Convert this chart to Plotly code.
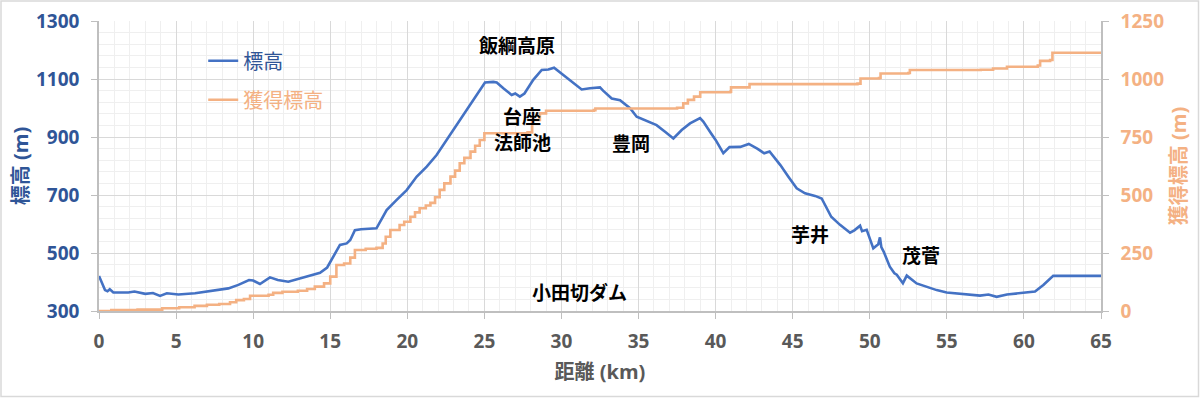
import plotly.graph_objects as go

# 距離 (km) と 標高 (m)
dist_elev = [0, 0.39, 0.55, 0.7, 0.93, 1.9, 2.3, 3.0, 3.5, 3.96, 4.4, 5.15, 6.23, 7.3, 8.39, 9.04,
             9.73, 10.0, 10.44, 11.09, 11.6, 12.28, 12.9, 13.97, 14.34, 14.8, 15.2, 15.63, 16.07,
             16.3, 16.6, 17.0, 18.0, 18.66, 19.31, 19.96, 20.6, 21.26, 21.9, 22.56, 23.2, 23.85,
             24.5, 25.04, 25.58, 25.8, 26.23, 26.77, 27.0, 27.3, 27.6, 28.17, 28.72, 29.15, 29.52,
             30.12, 30.66, 31.31, 31.85, 32.5, 32.7, 33.26, 33.8, 34.45, 34.88, 35.53, 36.17,
             36.72, 37.26, 37.8, 38.34, 38.99, 39.2, 39.7, 40.0, 40.5, 40.9, 41.6, 42.15, 42.7,
             43.15, 43.5, 44.2, 44.72, 45.26, 45.8, 46.45, 46.88, 47.5, 48.07, 48.72, 49.0,
             49.37, 49.5, 49.8, 50.23, 50.55, 50.66, 50.75, 50.9, 51.3, 51.6, 51.75, 52.15,
             52.4, 53.04, 53.7, 54.34, 54.99, 56.07, 57.15, 57.7, 58.23, 58.9, 59.96, 60.72,
             61.26, 61.9, 65.0]
elevation = [421, 372, 368, 375, 364, 364, 367, 359, 362, 352, 361, 357, 361, 370, 378, 390,
             407, 405, 393, 416, 407, 401, 410, 428, 432, 450, 487, 528, 533,
             545, 579, 582, 585, 648, 683, 717, 763, 798, 838, 890, 941, 993,
             1045, 1088, 1090, 1088, 1068, 1045, 1050, 1039, 1050, 1097, 1131, 1133, 1139,
             1114, 1091, 1064, 1068, 1071, 1060, 1033, 1027, 999, 970, 956, 941,
             918, 895, 924, 947, 965, 953, 913, 890, 844, 865, 866, 876, 860,
             844, 850, 803, 763, 723, 706, 697, 688, 625, 597, 570, 578,
             594, 575, 580, 516, 530, 554, 520, 505, 453, 430, 425, 396,
             422, 395, 384, 372, 364, 359, 353, 357, 349, 357, 364, 367,
             390, 421, 421]

# 獲得標高 (m)
dist_gain = [0, 0.8, 2.5, 4.1, 5.2, 6.2, 7.0, 7.8, 8.5, 8.9, 9.4, 9.8, 11.0, 11.3, 11.9, 12.9,
             13.5, 14.0, 14.6, 15.0, 15.4, 15.9, 16.3, 16.6, 17.3, 18.0, 18.4, 18.6, 18.9, 19.5,
             19.8, 20.2, 20.5, 20.8, 21.2, 21.5, 21.8, 22.1, 22.4, 22.8, 23.1, 23.4, 23.7, 24.1,
             24.4, 24.7, 25.0, 27.8, 28.1, 28.6, 29.0, 32.1, 32.2, 37.5, 37.9, 38.2, 38.6, 39.0,
             40.95, 41.0, 42.2, 49.2, 49.4, 50.6, 50.7, 52.5, 52.6, 57.2, 58.0, 58.9, 60.9,
             61.05, 61.7, 61.85, 65.0]
gain = [0, 4, 6, 12, 16, 22, 27, 30, 38, 47, 52, 66, 70, 78, 83, 87,
        95, 105, 119, 148, 198, 205, 230, 263, 268, 272, 291, 320, 349, 371,
        385, 406, 425, 443, 455, 466, 490, 522, 550, 579, 605, 637, 660, 687,
        712, 737, 766, 770, 823, 852, 863, 866, 873, 876, 895, 910, 924, 943,
        945, 964, 978, 980, 1002, 1004, 1024, 1026, 1039, 1040, 1045, 1053, 1058,
        1078, 1082, 1113, 1116]

# 地名ラベル
place_names = ["飯綱高原", "台座", "法師池", "豊岡", "芋井", "茂菅", "小田切ダム"]
place_x = [27.1, 27.45, 27.45, 34.5, 46.1, 53.3, 31.2]
place_y = [1214, 969, 879, 876, 562, 490, 362]

x_ticks = list(range(0, 66, 5))
y_ticks = [300, 500, 700, 900, 1100, 1300]
y2_ticks = [0, 250, 500, 750, 1000, 1250]

BLUE = "#4472C4"
BLUE_TXT = "#2F5597"
ORANGE = "#F4B183"
GRAY_TXT = "#595959"
FONT = "Open Sans, Noto Sans CJK JP, sans-serif"

fig = go.Figure()
fig.add_trace(go.Scatter(
    x=dist_elev, y=elevation, mode="lines",
    name=f'<span style="color:{BLUE_TXT}">標高</span>',
    line=dict(color=BLUE, width=2.6), legendgroup="a"))
fig.add_trace(go.Scatter(
    x=dist_gain, y=gain, mode="lines", yaxis="y2",
    name=f'<span style="color:{ORANGE}">獲得標高</span>',
    line=dict(color=ORANGE, width=2.6, shape="hv"), legendgroup="b"))

for t, xx, yy in zip(place_names, place_x, place_y):
    fig.add_annotation(x=xx, y=yy, xref="x", yref="y", text=f"<b>{t}</b>",
                       showarrow=False, font=dict(size=19, color="#000000", family=FONT))

W, H = 1200, 398
ml, mr, mt, mb = 99, 99, 21, 87
pw, ph = W - ml - mr, H - mt - mb

fig.add_shape(type="rect", xref="paper", yref="paper",
              x0=-(ml - 1) / pw, x1=1 + (mr - 1.5) / pw,
              y0=-(mb - 1.5) / ph, y1=1 + (mt - 1) / ph,
              line=dict(color="#d9d9d9", width=1.5), fillcolor="rgba(0,0,0,0)", layer="below")

fig.update_layout(
    width=W, height=H,
    margin=dict(l=ml, r=mr, t=mt, b=mb, autoexpand=False),
    paper_bgcolor="white", plot_bgcolor="white",
    font=dict(family=FONT),
    showlegend=True,
    legend=dict(x=0.104, y=0.93, xanchor="left", yanchor="top",
                bgcolor="rgba(0,0,0,0)", font=dict(size=20, family=FONT),
                tracegroupgap=10, itemwidth=30),
    xaxis=dict(range=[0, 65], tickvals=x_ticks, showgrid=True, gridcolor="#d9d9d9",
               gridwidth=1, zeroline=False, showline=True, linecolor="#bfbfbf", linewidth=1.5,
               ticks="outside", ticklen=6, tickcolor="#bfbfbf", automargin=False,
               tickfont=dict(size=19, color=GRAY_TXT, family=FONT, weight="bold"),
               ticklabelstandoff=6,
               minor=dict(dtick=1, tick0=0, showgrid=True, gridcolor="#efefef", gridwidth=1),
               title=dict(text="<b>距離 (km)</b>", font=dict(size=20, color=GRAY_TXT, family=FONT),
                          standoff=12)),
    yaxis=dict(range=[300, 1300], tickvals=y_ticks, showgrid=True, gridcolor="#d9d9d9",
               gridwidth=1, zeroline=False, showline=True, linecolor="#bfbfbf", linewidth=1.5,
               ticks="outside", ticklen=6, tickcolor="#bfbfbf", automargin=False,
               tickfont=dict(size=19, color=BLUE_TXT, family=FONT, weight="bold"),
               ticklabelstandoff=8,
               minor=dict(dtick=40, tick0=300, showgrid=True, gridcolor="#efefef", gridwidth=1),
               title=dict(text="<b>標高 (m)</b>", font=dict(size=20, color=BLUE_TXT, family=FONT),
                          standoff=2)),
    yaxis2=dict(range=[0, 1250], tickvals=y2_ticks, overlaying="y", side="right",
                showgrid=False, zeroline=False, showline=True, linecolor="#bfbfbf", linewidth=1.5,
                ticks="outside", ticklen=6, tickcolor="#bfbfbf", automargin=False,
                tickfont=dict(size=19, color=ORANGE, family=FONT, weight="bold"),
                ticklabelstandoff=8,
                title=dict(text="<b>獲得標高 (m)</b>", font=dict(size=20, color=ORANGE, family=FONT),
                           standoff=9)),
)

fig.write_html("out.html", config={"displayModeBar": False},
               post_script="document.body.style.margin='0';")
